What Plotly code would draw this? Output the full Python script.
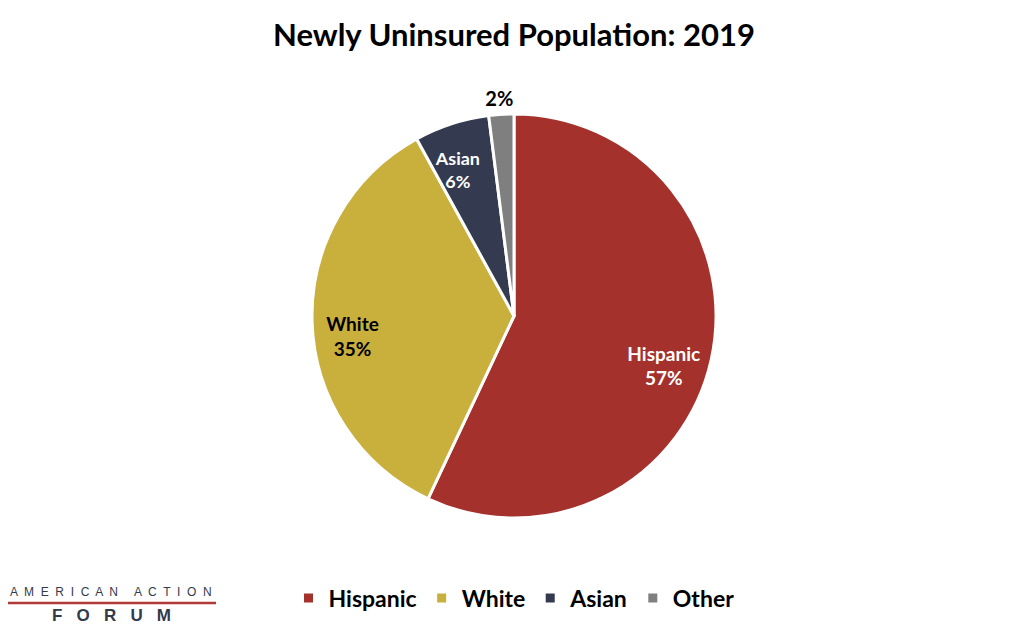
import plotly.graph_objects as go

labels = ["Hispanic", "White", "Asian", "Other"]
values = [57, 35, 6, 2]
colors = ["#A5312D", "#C9AF3C", "#343A50", "#7F7F7F"]
text_colors = ["white", "black", "white", "black"]
templates = ["%{label}<br>%{percent:.0%}", "%{label}<br>%{percent:.0%}",
             "%{label}<br>%{percent:.0%}", "%{percent:.0%}"]
inside_pos = ["inside", "inside", "inside", "none"]
outside_pos = ["none", "none", "none", "outside"]

W, H = 1024, 632
OFF = 8  # page body margin in the browser
cx, cy, r = 514 - OFF, 316 - OFF, 202


def px(x):
    return (x - OFF) / W


def py(y):
    return 1 - (y - OFF) / H


def dom(dx=0, dy=0):
    x0, y0 = cx + dx, cy + dy
    return dict(x=[(x0 - r) / W, (x0 + r) / W], y=[(H - y0 - r) / H, (H - y0 + r) / H])


clear = ["rgba(0,0,0,0)"] * len(values)
common = dict(labels=labels, values=values, sort=False, direction="clockwise", rotation=0,
              automargin=False, hoverinfo="skip")

fig = go.Figure()
# visible pie
fig.add_trace(go.Pie(
    **common,
    marker=dict(colors=colors, line=dict(color="white", width=3)),
    textinfo="none",
    domain=dom(),
))
# inside labels (transparent ring)
fig.add_trace(go.Pie(
    **common, hole=0.56, showlegend=False,
    marker=dict(colors=clear, line=dict(width=0)),
    texttemplate=templates, textposition=inside_pos,
    textfont=dict(family="Lato", size=19, color=text_colors, weight="bold"),
    insidetextorientation="horizontal",
    domain=dom(-4, 15),
))
# outside label for the small slice
fig.add_trace(go.Pie(
    **common, showlegend=False,
    marker=dict(colors=clear, line=dict(width=0)),
    texttemplate=templates, textposition=outside_pos,
    textfont=dict(family="Lato", size=20, color=text_colors, weight="bold"),
    domain=dom(18, -4),
))

fig.update_layout(
    width=W, height=H, margin=dict(l=0, r=0, t=0, b=0),
    paper_bgcolor="white", plot_bgcolor="white",
    title=dict(text="<b>Newly Uninsured Population: 2019</b>", x=px(514), xanchor="center",
               y=py(35), yanchor="middle",
               font=dict(family="Lato", size=31, color="black")),
    legend=dict(orientation="h", x=px(514), xanchor="center", y=py(598), yanchor="middle",
                font=dict(family="Lato", size=23, color="black", weight="bold"), itemwidth=30,
                traceorder="normal"),
    font=dict(family="Lato"),
)

fig.add_annotation(text="A  M  E  R  I  C  A  N     A  C  T  I  O  N", xref="paper", yref="paper",
                   x=px(110.5), y=py(592), xanchor="center", yanchor="middle", showarrow=False,
                   font=dict(family="Liberation Sans", size=12, color="#333A4A"))
fig.add_shape(type="line", xref="paper", yref="paper", x0=px(6), x1=px(216),
              y0=py(603), y1=py(603), line=dict(color="#B23A36", width=2.5))
fig.add_annotation(text="<b>F   O   R   U   M</b>", xref="paper", yref="paper",
                   x=px(111), y=py(615), xanchor="center", yanchor="middle", showarrow=False,
                   font=dict(family="Liberation Sans", size=17, color="#333A4A"))

fig.write_html("out.html")
